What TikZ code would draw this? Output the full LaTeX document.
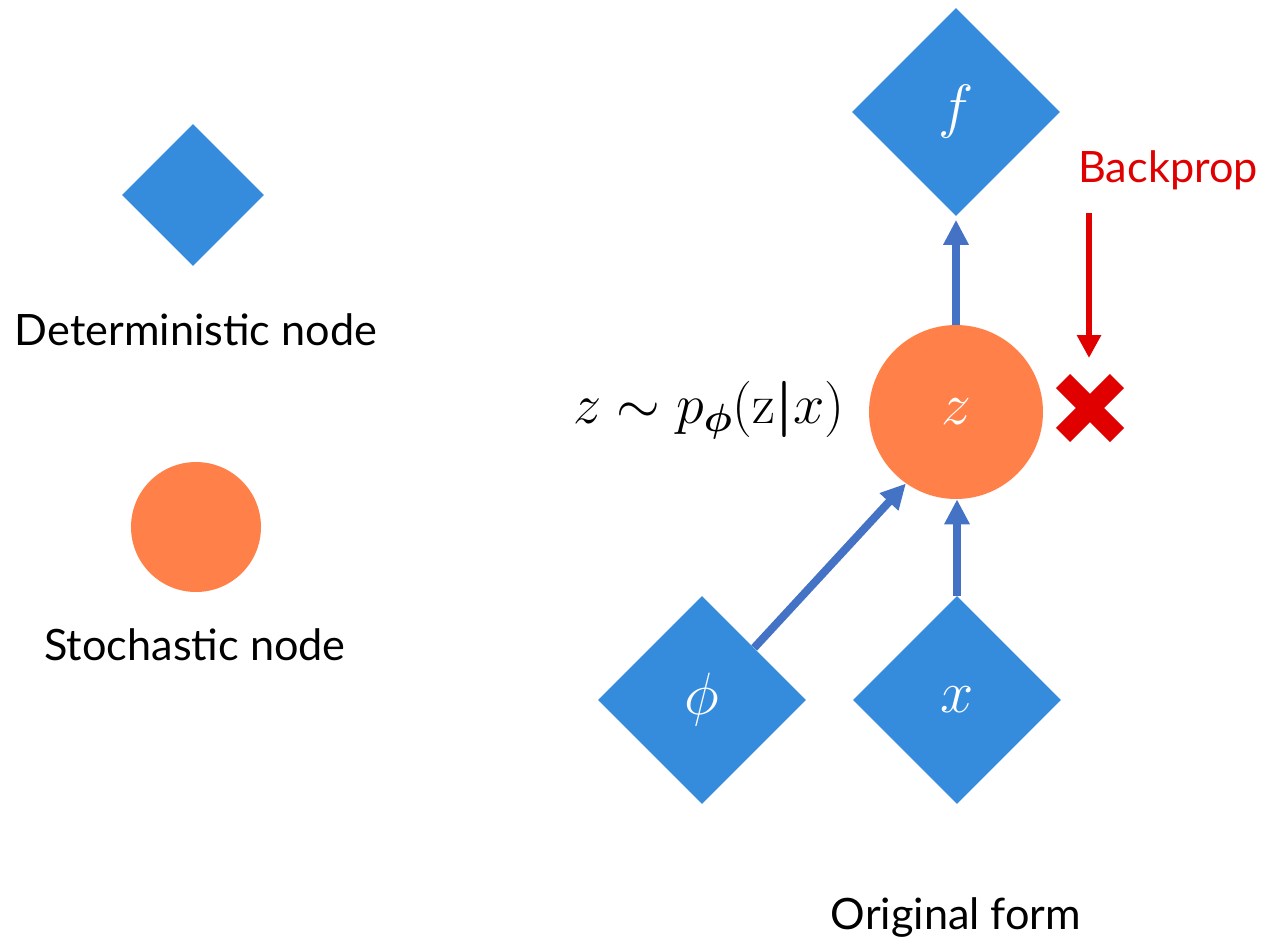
\documentclass[tikz,border=0pt]{standalone}
\usepackage{fix-cm}
\usepackage{bm}
\usepackage[no-math]{fontspec}
\setmainfont{Lato}
\usetikzlibrary{shapes.geometric, shapes.misc, arrows.meta}
\definecolor{detblue}{RGB}{54,140,220}
\definecolor{stochorange}{RGB}{255,128,72}
\definecolor{edgeblue}{RGB}{68,114,196}
\definecolor{bpred}{RGB}{224,0,0}
\tikzset{
  detnode/.style={diamond, aspect=1, fill=detblue, inner sep=0pt, text=white,
    minimum width=4.16cm, minimum height=4.16cm, font=\fontsize{34}{40}\selectfont},
  stochnode/.style={circle, fill=stochorange, inner sep=0pt, text=white,
    minimum size=3.48cm, font=\fontsize{34}{40}\selectfont},
  caption/.style={font=\fontsize{24.6}{30}\selectfont},
  flow/.style={edgeblue, line width=0.16cm, -{Triangle[width=0.48cm, length=0.5cm]}},
  bparrow/.style={bpred, line width=0.13cm, -{Triangle[width=0.46cm, length=0.46cm]}}
}
\begin{document}
\begin{tikzpicture}[x=0.02cm, y=-0.02cm]
    \useasboundingbox (0,0) rectangle (1263,944);
    % Legend
    \node[detnode, minimum width=2.84cm, minimum height=2.84cm] (legdet) at (193,195) {};
    \node[caption] (legdettext) at (196,330) {Deterministic node};
    \node[stochnode, minimum size=2.6cm] (legstoch) at (196,527) {};
    \node[caption] (legstochtext) at (195,645) {Stochastic node};
    % Original form graph
    \node[detnode] (f) at (956,112) {$f$};
    \node[stochnode] (z) at (956,412) {$z$};
    \node[detnode] (phi) at (702,700) {$\phi$};
    \node[detnode] (x) at (957,700) {$x$};
    \node[font=\fontsize{32}{40}\selectfont, anchor=east] (dist) at (851,410)
      {$z \sim p_{\bm{\phi}}(\mathrm{z}\bm{|}x)$};
    \draw[flow] (z.north) -- ([yshift=-2pt]f.south);
    \draw[flow] (x.north) -- (x.north |- z.south);
    \draw[flow] (phi.north east) -- (z.235);
    % Backprop blocked
    \node[bpred, caption] (bp) at (1168,170) {Backprop};
    \node[cross out, draw=bpred, line width=0.4cm, minimum size=1.08cm, inner sep=0pt, outer sep=0pt] (cross) at (1090,408) {};
    \coordinate (bptop) at (1089,213);
    \draw[bparrow, shorten >=0.46cm] (bptop) -- (cross.north -| bptop);
    \node[caption] (title) at (956,918) {Original form};
\end{tikzpicture}
\end{document}
